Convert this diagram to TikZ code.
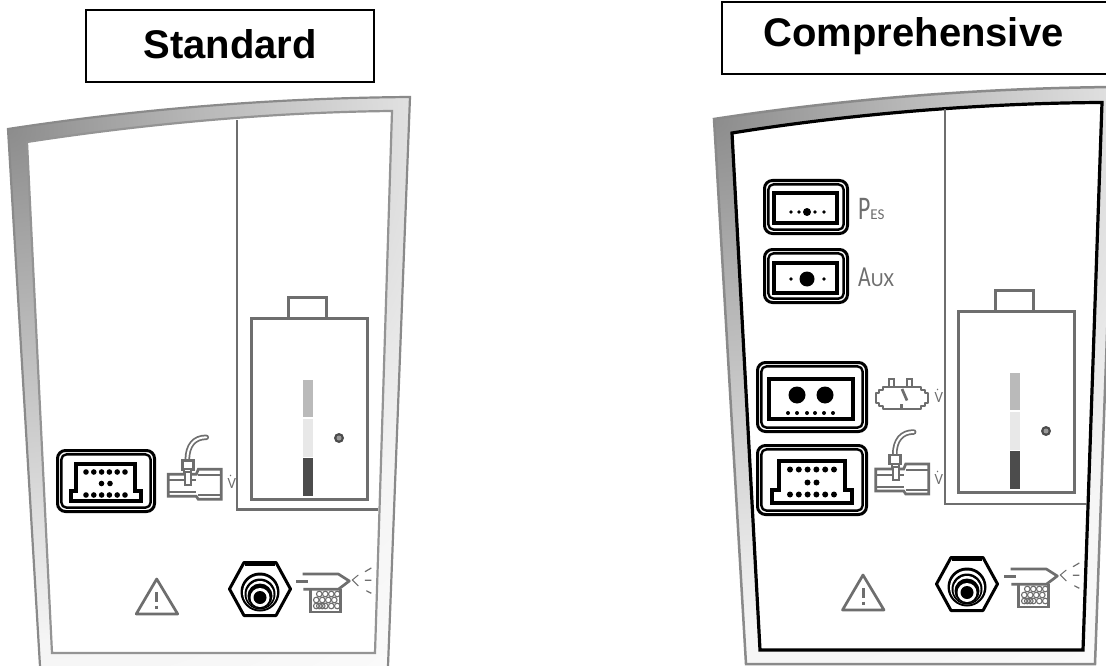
\documentclass[tikz,border=0pt]{standalone}
\usepackage{fontspec}
\setmainfont{Liberation Sans}
\newfontfamily\labelfont{Carlito}
\newfontfamily\flowfont{Noto Sans}
\pgfdeclareradialshading{bandshade}{\pgfpointorigin}{color(0bp)=(black!45); color(6bp)=(black!28); color(12.5bp)=(black!12); color(16bp)=(black!4); color(25bp)=(white); color(50bp)=(white)}
\definecolor{iconline}{gray}{0.43}
\definecolor{edgeline}{gray}{0.54}
\newcommand{\flowmark}{V\kern-.47em\raisebox{.2em}{˙}\kern.17em}
\tikzset{
  icon/.style={draw=iconline,line width=2.7pt},
  outerring/.style={draw=black,line width=3pt,rounded corners=8pt},
  innerring/.style={draw=black,line width=2.4pt,rounded corners=5pt},
  socket/.style={draw=black,line width=3.1pt},
  pin/.style={fill=black,draw=none},
  titletext/.style={font=\bfseries\fontsize{40}{40}\selectfont,anchor=base,inner sep=0pt},
  titlebox/.style={draw=black,line width=2pt,fill=white},
  gaugelabel/.style={text=iconline,inner sep=0pt,anchor=base west,font=\labelfont},
  flowlabel/.style={text=iconline,inner sep=0pt,font=\flowfont\fontsize{14}{14}\selectfont}
}
\newcommand{\ringbox}[4]{%
  \draw[outerring] ({#1+1.5},{#2+1.5}) rectangle ({#3-1.5},{#4-1.5});
  \draw[innerring] ({#1+5.4},{#2+5.4}) rectangle ({#3-5.4},{#4-5.4});
}
\newcommand{\batt}[2]{%
  \begin{scope}[shift={(#1,#2)}]
    \draw[icon,line width=3pt] (37,0) rectangle (75,21);
    \draw[icon,line width=3pt,fill=white] (0,21) rectangle (116,202);
    \fill[black!27] (52,83) rectangle (62,120);
    \fill[black!9] (52,122) rectangle (62,160);
    \fill[black!70] (52,161) rectangle (62,199);
    \fill[black!70] (88,141) circle (5);
    \fill[black!40] (88,141) circle (2.5);
  \end{scope}}
\newcommand{\flowicon}[2]{%
  \begin{scope}[shift={(#1,#2)}]
    \draw[iconline,line width=5.5pt,line cap=round] (19,-9) .. controls (19,-24) and (26,-32) .. (38,-32);
    \draw[white,line width=2pt,line cap=round] (19,-9) .. controls (19,-24) and (26,-32) .. (38,-32);
    \draw[icon,fill=white] (0,5) -- (28,5) -- (30,0) -- (53,0) -- (53,30) -- (30,30) -- (28,27) -- (0,27) -- cycle;
    \draw[iconline,line width=1.8pt] (0,11) -- (28,11) (30,6) -- (53,6) (0,23) -- (28,23) (30,26) -- (53,26);
    \draw[icon,fill=white,line width=1.8pt] (17,3) rectangle (23,16);
    \draw[icon,fill=white] (14,-9) rectangle (25,0);
    \draw[icon,fill=white,line width=1.8pt] (16,0) rectangle (23,3);
  \end{scope}}
\newcommand{\hexfit}[2]{%
  \begin{scope}[shift={(#1,#2)}]
    \draw[black,line width=3pt,line join=round,fill=white] (-30.5,0) -- (-16,-26.5) -- (16,-26.5) -- (30.5,0) -- (16,26.5) -- (-16,26.5) -- cycle;
    \draw[black,line width=2.4pt] (-15,-24.5) -- (15,-24.5);
    \fill[black] (0,3) circle (19.5);
    \fill[white] (0,3.5) circle (17);
    \fill[black] (0,5) circle (15.5);
    \fill[white] (0,5.5) circle (13.5);
    \fill[black] (0,7) circle (12.5);
    \fill[white] (0,8.5) circle (9.5);
    \fill[black] (0,8.5) circle (6.5);
  \end{scope}}
\newcommand{\nozzleicon}[2]{%
  \begin{scope}[shift={(#1,#2)}]
    \draw[icon,line join=round] (-46.7,-7) -- (-11,-7) -- (0,0) -- (-11,8.3) -- (-46,8.3);
    \draw[iconline,line width=3pt] (-53,0) -- (-41,0);
    \foreach \r in {0,1,2} \foreach \c in {0,1,2,3}
      \draw[iconline,line width=1.1pt] ({-30+\c*6+mod(\r,2)*(-3)},{13+\r*6}) circle (2.8);
    \draw[iconline,line width=1.1pt] (-33,25) circle (2.8) (-27,25) circle (2.8);
    \draw[icon,line width=2.6pt] (-39,8.3) -- (-39,31) -- (-9,31) -- (-9,8.3);
    \draw[iconline,line width=1pt] (9,-6) -- (3,-1) -- (9,5);
    \draw[iconline,line width=1.2pt] (15.7,-9.3) -- (22,-13) (15.6,-.7) -- (22,-.7) (17,9.7) -- (22,12.3);
  \end{scope}}
\newcommand{\warnicon}[2]{%
  \begin{scope}[shift={(#1,#2)}]
    \draw[icon,line join=round] (0,0) -- (-20.5,35) -- (21,35) -- cycle;
    \draw[iconline,line width=3pt] (0,13) -- (0,23) (0,26.5) -- (0,30);
  \end{scope}}
\newcommand{\flowpins}[2]{%
  \foreach \i in {0,...,5} {\fill[pin] ({#1+\i*7.8},#2) circle (2.8);}
}
\begin{document}
\begin{tikzpicture}[x=1pt,y=-1pt]
\useasboundingbox (0,0) rectangle (1106,666);
\fill[white] (0,0) rectangle (1106,666);

% ---------- title boxes
\draw[titlebox] (86,10) rectangle (374,82);
\node[titletext] (stdtitle) at (230,59) {Standard};
\draw[titlebox] (722,2) rectangle (1112,74);
\node[titletext] (comptitle) at (913.5,46.5) {Comprehensive};

% ---------- left panel
\begin{scope}
  \clip (8,129) .. controls (145,108) and (280,98) .. (410,97) -- (388,666) -- (40,666) -- cycle;
  \shade[shading=bandshade] (8,129) circle (800);
\end{scope}
\draw[edgeline,line width=2.2pt] (40,666) -- (8,129) .. controls (145,108) and (280,98) .. (410,97) -- (388,666);
\draw[draw=black!42,line width=2.2pt,fill=white] (27,142) .. controls (150,123) and (280,112) .. (392,111) -- (375,653) -- (52,653) -- cycle;
\draw[icon] (237,120) -- (237,509.5) -- (378,509.5);
\batt{251}{297}
\ringbox{56}{449}{156}{513}
\draw[socket] (76,464) -- (135,464) -- (135,491) -- (141,491) -- (141,501) -- (71,501) -- (71,491) -- (76,491) -- cycle;
\flowpins{86}{472}
\fill[pin] (101.5,483.5) circle (2.8) (110,483.5) circle (2.8);
\flowpins{86}{495}
\flowicon{168.3}{469.3}
\node[flowlabel] (flowa) at (231,482) {\flowmark};
\hexfit{260}{589}
\nozzleicon{349.3}{581}
\warnicon{156.7}{579}

% ---------- right panel
\begin{scope}
  \clip (714,119) .. controls (851,98) and (986,88) .. (1116,87) -- (1095,664) -- (746,664) -- cycle;
  \shade[shading=bandshade] (714,119) circle (800);
\end{scope}
\draw[edgeline,line width=2.5pt] (746,664) -- (714,119) .. controls (851,98) and (986,88) .. (1116,87) -- (1095,664) -- cycle;
\draw[draw=black,line width=3.2pt,fill=white] (732,133) .. controls (856,113) and (990,103) .. (1102,102.5) -- (1083,650) -- (760,650) -- cycle;
\draw[icon] (945,109) -- (945,504) -- (1086,504);
\batt{958}{290}
\ringbox{763}{179}{849}{235}
\draw[socket] (774,193) rectangle (837,223);
\fill[pin] (807,212) circle (4);
\foreach \px in {791,799,815,824} \fill[pin] (\px,212) circle (1.8);
\node[gaugelabel] (pes) at (858,219) {\fontsize{33}{33}\selectfont\scalebox{0.72}[1]{P}\fontsize{15}{15}\selectfont ES};
\ringbox{763}{248}{849}{304}
\draw[socket] (774,263) rectangle (837,293);
\fill[pin] (807,279) circle (7.5);
\foreach \px in {791,824} \fill[pin] (\px,279) circle (1.9);
\node[gaugelabel] (aux) at (858,286) {\fontsize{29}{29}\selectfont\scalebox{0.75}[1]{A}\fontsize{20}{20}\selectfont UX};
\ringbox{756}{361}{868}{433}
\draw[socket] (769,379) rectangle (853,419);
\fill[pin] (797,395) circle (8.5) (825,395) circle (8.5);
\foreach \px in {788,797,807,815,824,833} \fill[pin] (\px,413) circle (2);
\draw[icon,line width=2pt] (889,387) -- (889,379) -- (894,379) -- (894,387) (907,387) -- (907,379) -- (912,379) -- (912,387);
\draw[icon,line join=round,line width=2.2pt] (883,387) -- (921,387) -- (921,390) -- (925,390) -- (925,393) -- (928,393) -- (928,403) -- (925,403) -- (925,406) -- (921,406) -- (921,409) -- (883,409) -- (883,406) -- (879,406) -- (879,403) -- (876,403) -- (876,393) -- (879,393) -- (879,390) -- (883,390) -- cycle;
\draw[icon] (902,389) -- (907,400.5) (901.5,404) -- (901.5,409);
\node[flowlabel] (flowb) at (938,396) {\flowmark};
\ringbox{756}{444}{868}{516}
\draw[socket] (779,461) -- (845,461) -- (845,490) -- (852,490) -- (852,503) -- (772,503) -- (772,490) -- (779,490) -- cycle;
\foreach \i in {0,...,5} {\fill[pin] ({790+\i*8.8},469.5) circle (3);}
\fill[pin] (807.5,482.5) circle (3) (816.5,482.5) circle (3);
\foreach \i in {0,...,5} {\fill[pin] ({790+\i*8.8},494.5) circle (3);}
\flowicon{875.7}{464}
\node[flowlabel] (flowc) at (938,478) {\flowmark};
\hexfit{967}{584}
\nozzleicon{1057.3}{576}
\warnicon{863}{575}
\end{tikzpicture}
\end{document}
